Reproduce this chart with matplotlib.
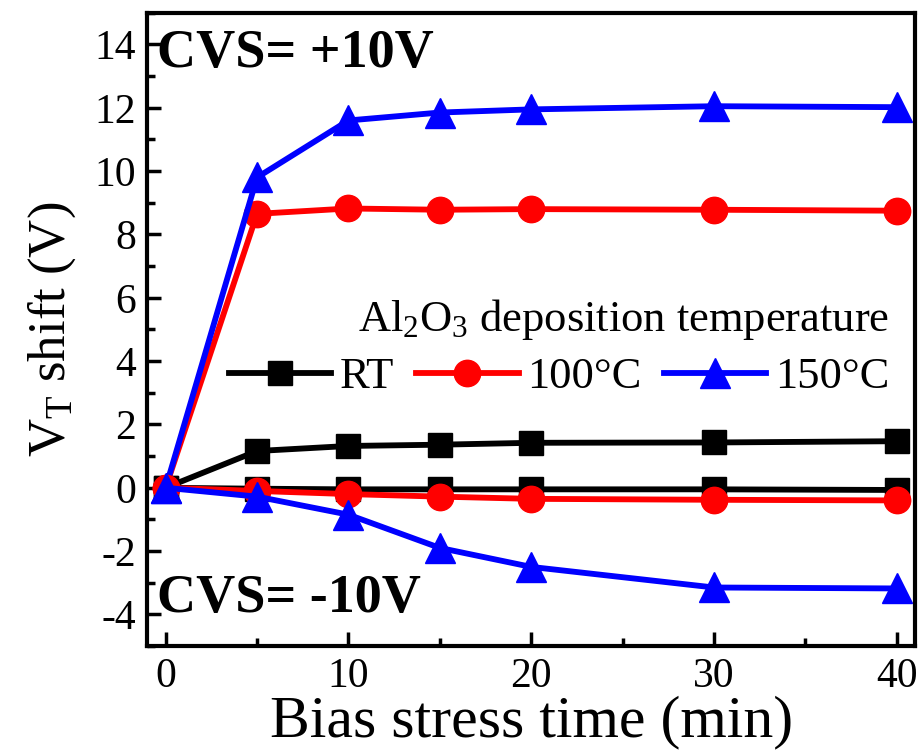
import matplotlib
matplotlib.use("Agg")
import matplotlib.pyplot as plt

plt.rcParams['font.family'] = ['Liberation Serif', 'DejaVu Serif']
plt.rcParams['mathtext.fontset'] = 'custom'
plt.rcParams['mathtext.rm'] = 'Liberation Serif'
plt.rcParams['mathtext.it'] = 'Liberation Serif:italic'
plt.rcParams['mathtext.bf'] = 'Liberation Serif:bold'
plt.rcParams['axes.unicode_minus'] = False

# stress time (min)
t = [0, 5, 10, 15, 20, 30, 40]

# positive bias (+10V)
rt_pos = [0, 1.16, 1.32, 1.36, 1.42, 1.43, 1.47]
c100_pos = [0, 8.65, 8.82, 8.78, 8.8, 8.78, 8.75]
c150_pos = [0, 9.8, 11.6, 11.85, 11.95, 12.05, 12.02]

# negative bias (-10V)
rt_neg = [0, -0.03, -0.05, -0.05, -0.05, -0.05, -0.07]
c100_neg = [0, -0.1, -0.2, -0.28, -0.35, -0.38, -0.4]
c150_neg = [0, -0.28, -0.85, -1.9, -2.5, -3.15, -3.18]

labels = ['RT', '100°C', '150°C']
colors = ['black', '#ff0000', '#0000ff']
markers = ['s', 'o', '^']
msizes = [17, 19, 22]

fig = plt.figure(figsize=(9.21, 7.53), dpi=100)
ax = fig.add_axes([0.16, 0.142, 0.8335, 0.841])

pos = [rt_pos, c100_pos, c150_pos]
neg = [rt_neg, c100_neg, c150_neg]

for i in range(3):
    ax.plot(t, pos[i], color=colors[i], marker=markers[i], ms=msizes[i],
            lw=4.2, label=labels[i])
for i in range(3):
    ax.plot(t, neg[i], color=colors[i], marker=markers[i], ms=msizes[i],
            lw=4.2)

ax.set_xlim(-1, 41)
ax.set_ylim(-5, 15)
ax.set_xticks([0, 10, 20, 30, 40])
ax.set_xticks([5, 15, 25, 35], minor=True)
ax.set_yticks(range(-4, 15, 2))
ax.set_yticks(range(-5, 16, 2), minor=True)

ax.tick_params(which='both', direction='in', width=2.5, labelsize=30)
ax.tick_params(which='major', length=10, pad=8)
ax.tick_params(which='minor', length=6)
for s in ax.spines.values():
    s.set_linewidth(3)

ax.set_xlabel('Bias stress time (min)', fontsize=43, labelpad=0)
ax.set_ylabel(r'V$_\mathrm{T}$ shift (V)', fontsize=38, labelpad=12)

ax.text(0.012, 0.975, 'CVS= +10V', transform=ax.transAxes, fontsize=39,
        fontweight='bold', va='top', ha='left')
ax.text(0.012, 0.035, 'CVS= -10V', transform=ax.transAxes, fontsize=39,
        fontweight='bold', va='bottom', ha='left')

leg = ax.legend(ncol=3, loc='upper right', bbox_to_anchor=(0.99, 0.58),
                borderaxespad=0, frameon=False, fontsize=32,
                handlelength=2.3, columnspacing=0.5, handletextpad=0.2,
                labelspacing=0.35,
                title=r'Al$_2$O$_3$ deposition temperature',
                title_fontsize=32)
leg._legend_box.align = 'right'

fig.savefig('out.png', dpi=100)
